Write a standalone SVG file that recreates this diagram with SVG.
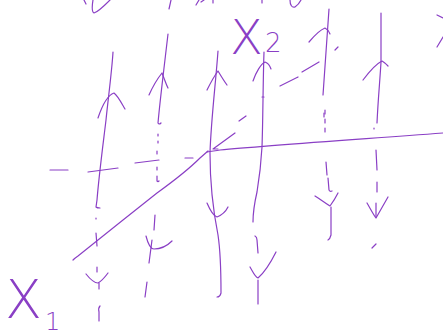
<svg xmlns="http://www.w3.org/2000/svg" width="443" height="335" viewBox="0 0 443 335">
<style>
.s{fill:none;stroke:#8a3fc5;stroke-width:1.2;stroke-linecap:round;stroke-linejoin:round}
.d{stroke-dasharray:4 5}
.t{fill:#8a3fc5;font-family:"DejaVu Sans","Liberation Sans",sans-serif;font-weight:200}
</style>
<rect width="443" height="335" fill="#ffffff"/>
<g id="top-marks" class="s">
<path d="M93,0 C92,6 92,12 94,13 C98,12 104,6 110,0"/>
<path d="M84,0 L86,4"/>
<path d="M171,0 L169,9"/>
<path d="M196,5 L199,0"/>
<path d="M201,2 L204,0"/>
<path d="M213,0 L213,3"/>
<path d="M262,0 L262,3"/>
<path d="M290,0 C290,5 292,8 295,7 C298,5 300,2 301,0"/>
<path d="M437,15 L443,18"/>
<path d="M437,47 L443,37"/>
</g>
<g id="guides" class="s">
<path d="M50,170 L68,170"/>
<path d="M88,172 L118,168"/>
<path d="M135,163 L159,160"/>
<path d="M185,158 L193,158"/>
<path d="M235,133 L213,149 L218,149"/>
<path d="M239,121 L246,116"/>
<path d="M280,86 L298,77"/>
<path d="M302,72 L319,62"/>
<path d="M335,50 L338,47"/>
</g>
<g id="trajectory" class="s">
<path d="M73,260 Q75,258 78,256 L123,220 L157,193 C175,180 190,168 200,158 L208,151"/>
<path d="M207,152 C212,151 215,151 220,150 C260,146 320,142 443,133"/>
</g>
<g id="line1" class="s">
<path d="M113,52 C112,70 108,100 106,120 C103,145 99,175 97,200 L96,207 Q97,208 100,208"/>
<path d="M98,118 C102,106 108,95 114,93 C118,96 122,104 125,109"/>
<path d="M96,218 L96,219"/>
<path d="M96,233 L97,246"/>
<path d="M97,267 L97,272"/>
<path d="M86,274 C90,279 94,283 98,283 C102,281 105,277 108,273"/>
<path d="M99,283 L99,289"/>
<path d="M100,306 Q98,308 99,312 L99,321"/>
</g>
<g id="line2" class="s">
<path d="M168,34 C165,60 160,100 158,123 Q159,125 161,123"/>
<path d="M149,95 C153,86 158,78 162,73 C164,78 166,84 168,88"/>
<path d="M158,134 L158,136 M158,141 L158,143 M157,151 L157,154 M157,167 L157,170 M157,176 L157,181 Q158,182 159,181"/>
<path d="M155,215 L154,230"/>
<path d="M146,236 C148,244 151,249 154,249 C160,249 167,246 172,241"/>
<path d="M152,240 L149,263"/>
<path d="M147,282 L145,297"/>
</g>
<g id="line3" class="s">
<path d="M218,51 C216,80 211,120 210,153 C210,185 214,215 218,235 C221,255 221,280 221,293 Q220,297 217,297"/>
<path d="M207,90 C211,82 215,75 218,71 C221,76 224,81 227,85"/>
<path d="M207,203 C210,210 213,216 217,217 C222,215 226,211 228,207"/>
</g>
<g id="line4" class="s">
<path d="M264,52 C263,80 263,120 262,147 C261,165 259,180 257,192 C254,205 253,215 253,222"/>
<path d="M262,97 L264,97"/>
<path d="M253,81 C256,72 261,64 265,62 C268,63 270,66 271,69"/>
<path d="M255,236 Q257,237 257,240 L258,253"/>
<path d="M250,267 C253,272 255,277 258,278 C265,272 271,262 276,252"/>
<path d="M258,280 L258,304"/>
</g>
<g id="line5" class="s">
<path d="M329,9 C327,40 325,70 323,95"/>
<path d="M324,113 L324,117"/>
<path class="s d" d="M325,110 L325,136"/>
<path d="M326,162 L327,175"/>
<path d="M328,178 L329,190 Q330,192 332,191"/>
<path d="M309,42 C314,36 320,30 325,28 C327,29 329,31 330,34"/>
<path d="M315,196 C320,199 325,203 330,206 C333,202 336,197 338,193"/>
<path d="M331,207 L331,235 Q330,239 328,240"/>
</g>
<g id="line6" class="s">
<path d="M381,13 L381,62 C380,80 378,100 377,123"/>
<path d="M374,128 L374,129"/>
<path d="M376,150 L377,170 M377,182 L377,192 M376,203 L376,217"/>
<path d="M363,80 C369,72 376,64 382,61 C384,62 386,64 388,66"/>
<path d="M367,203 C370,208 373,214 376,218 C380,211 384,204 388,197"/>
<path d="M372,248 L376,244"/>
</g>
<g id="label-x2">
<text class="t" x="230" y="54" font-size="48">X</text>
<text class="t" x="265" y="52" font-size="26">2</text>
</g>
<g id="label-x1">
<text class="t" x="5" y="318" font-size="54">X</text>
<text class="t" x="45" y="330" font-size="24">1</text>
</g>
</svg>
